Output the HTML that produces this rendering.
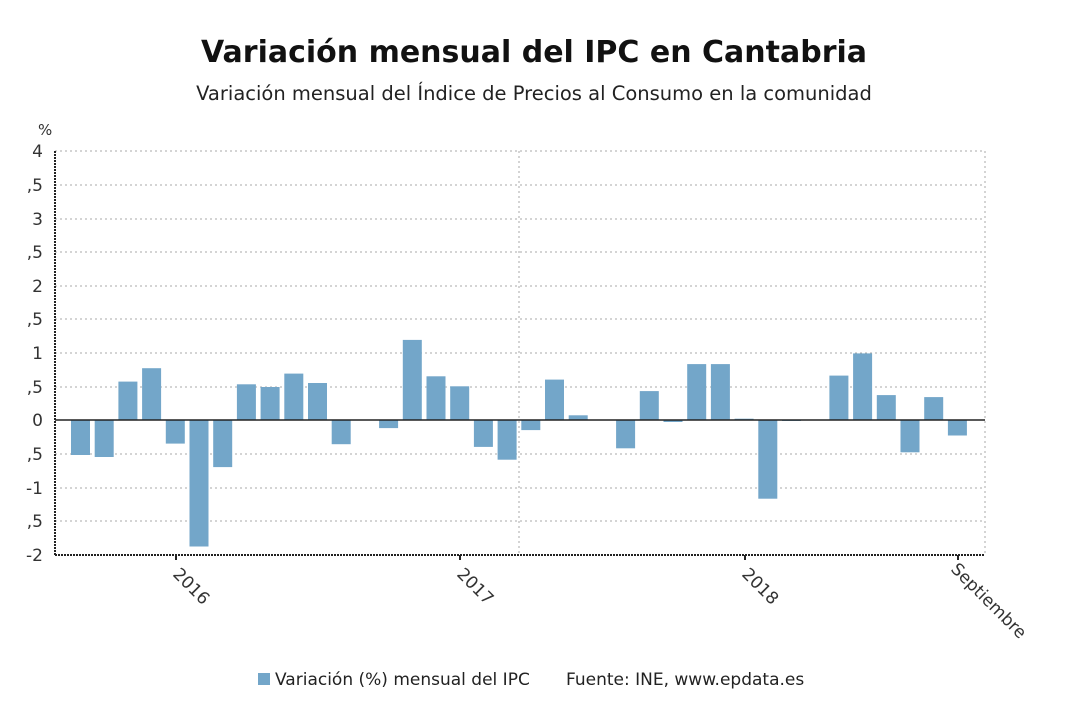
<!DOCTYPE html>
<html><head><meta charset="utf-8"><style>
body{margin:0;background:#fff;}
svg{display:block;font-family:"DejaVu Sans","Liberation Sans",sans-serif;}
</style></head><body>
<svg width="1068" height="720" viewBox="0 0 1068 720">
<text x="534" y="62" text-anchor="middle" font-size="30" font-weight="bold" fill="#111">Variación mensual del IPC en Cantabria</text>
<text x="534" y="100" text-anchor="middle" font-size="19.5" fill="#222">Variación mensual del Índice de Precios al Consumo en la comunidad</text>
<text x="38" y="135" font-size="15" fill="#333">%</text>
<g stroke="#aaa" stroke-dasharray="2,3" stroke-width="1">
<line x1="55" y1="151" x2="985" y2="151"/><line x1="55" y1="185" x2="985" y2="185"/>
<line x1="55" y1="219" x2="985" y2="219"/><line x1="55" y1="252" x2="985" y2="252"/>
<line x1="55" y1="286" x2="985" y2="286"/><line x1="55" y1="319" x2="985" y2="319"/>
<line x1="55" y1="353" x2="985" y2="353"/><line x1="55" y1="387" x2="985" y2="387"/>
<line x1="55" y1="454" x2="985" y2="454"/><line x1="55" y1="488" x2="985" y2="488"/>
<line x1="55" y1="521" x2="985" y2="521"/>
<line x1="519" y1="151" x2="519" y2="555"/><line x1="985" y1="151" x2="985" y2="555"/>
</g>
<g font-size="17" fill="#333" text-anchor="end">
<text x="43" y="157">4</text><text x="43" y="191">,5</text><text x="43" y="225">3</text><text x="43" y="258">,5</text>
<text x="43" y="292">2</text><text x="43" y="325">,5</text><text x="43" y="359">1</text><text x="43" y="393">,5</text>
<text x="43" y="426">0</text><text x="43" y="460">,5</text><text x="43" y="494">-1</text><text x="43" y="527">,5</text><text x="43" y="561">-2</text>
</g>
<g fill="#73a6c9">
<rect x="71" y="420" width="19" height="35"/>
<rect x="94.7" y="420" width="19" height="37"/>
<rect x="118.4" y="381.6" width="19" height="38.4"/>
<rect x="142.1" y="368.2" width="19" height="51.8"/>
<rect x="165.8" y="420" width="19" height="23.6"/>
<rect x="189.5" y="420" width="19" height="126.5"/>
<rect x="213.2" y="420" width="19" height="47.1"/>
<rect x="236.9" y="384.3" width="19" height="35.7"/>
<rect x="260.6" y="387" width="19" height="33"/>
<rect x="284.3" y="373.6" width="19" height="46.4"/>
<rect x="308" y="383" width="19" height="37"/>
<rect x="331.7" y="420" width="19" height="24.2"/>
<rect x="379.1" y="420" width="19" height="8.1"/>
<rect x="402.8" y="339.9" width="19" height="80.1"/>
<rect x="426.5" y="376.3" width="19" height="43.7"/>
<rect x="450.2" y="386.3" width="19" height="33.7"/>
<rect x="473.9" y="420" width="19" height="26.9"/>
<rect x="497.6" y="420" width="19" height="39.7"/>
<rect x="521.3" y="420" width="19" height="10.1"/>
<rect x="545" y="379.6" width="19" height="40.4"/>
<rect x="568.7" y="415.3" width="19" height="4.7"/>
<rect x="616.1" y="420" width="19" height="28.3"/>
<rect x="639.8" y="391.1" width="19" height="28.9"/>
<rect x="663.5" y="420" width="19" height="2"/>
<rect x="687.2" y="364.1" width="19" height="55.9"/>
<rect x="710.9" y="364.1" width="19" height="55.9"/>
<rect x="734.6" y="418.7" width="19" height="1.3"/>
<rect x="758.3" y="420" width="19" height="78.7"/>
<rect x="782" y="420" width="19" height="1"/>
<rect x="829.4" y="375.6" width="19" height="44.4"/>
<rect x="853.1" y="353.4" width="19" height="66.6"/>
<rect x="876.8" y="395.1" width="19" height="24.9"/>
<rect x="900.5" y="420" width="19" height="32.3"/>
<rect x="924.2" y="397.1" width="19" height="22.9"/>
<rect x="947.9" y="420" width="19" height="15.5"/>
</g>
<line x1="55" y1="420" x2="985" y2="420" stroke="#222" stroke-width="1.5"/>
<line x1="55" y1="151" x2="55" y2="555" stroke="#222" stroke-width="2" stroke-dasharray="2,1"/>
<line x1="55" y1="555" x2="985" y2="555" stroke="#222" stroke-width="2" stroke-dasharray="2,1"/>
<g stroke="#222" stroke-width="2">
<line x1="176" y1="555" x2="176" y2="560"/><line x1="460" y1="555" x2="460" y2="560"/>
<line x1="745" y1="555" x2="745" y2="560"/><line x1="958" y1="555" x2="958" y2="560"/>
</g>
<g font-size="17" fill="#333">
<text transform="translate(172,575) rotate(45)">2016</text>
<text transform="translate(456,575) rotate(45)">2017</text>
<text transform="translate(741,575) rotate(45)">2018</text>
<text transform="translate(950,570) rotate(45)">Septiembre</text>
</g>
<rect x="258" y="673" width="12" height="12" fill="#73a6c9"/>
<text x="275" y="685" font-size="17" fill="#222">Variación (%) mensual del IPC</text>
<text x="566" y="685" font-size="17" fill="#222">Fuente: INE, www.epdata.es</text>
</svg>
</body></html>
